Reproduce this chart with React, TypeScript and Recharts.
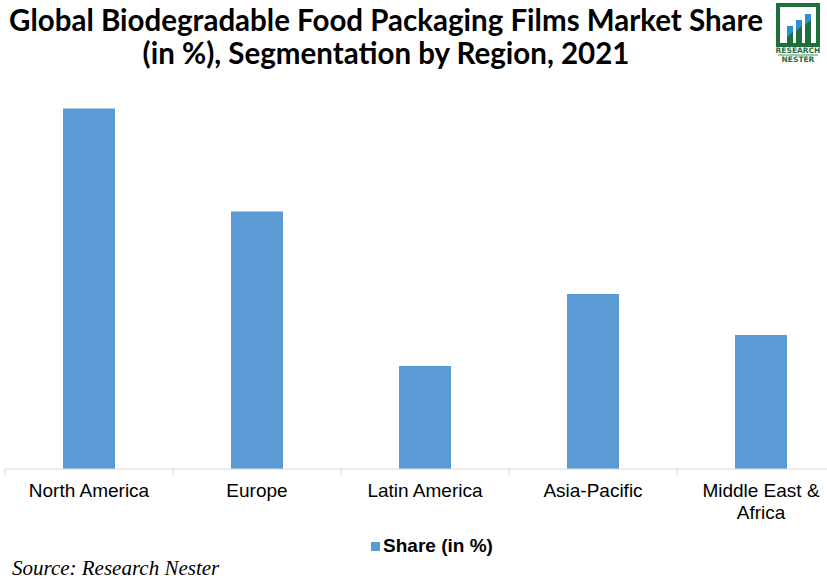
import React from "react"
import { BarChart, Bar, XAxis, YAxis, Legend, Text } from "recharts"

const regions = ["North America", "Europe", "Latin America", "Asia-Pacific", "Middle East & Africa"]
const shares = [35, 25, 10, 17, 13]
const seriesName = "Share (in %)"

const data = regions.map((region, i) => ({ region, share: shares[i] }))

const BAR_COLOR = "#5B9BD5"
const CHART_W = 846
const PLOT_LEFT = 5
const PLOT_RIGHT = 1
const BAND = (CHART_W - PLOT_LEFT - PLOT_RIGHT) / regions.length
const NARROW = "'Liberation Sans Narrow', 'Arial Narrow', 'Liberation Sans', sans-serif"

function RegionTick(props: any) {
  const { x, y, payload } = props
  const axisY = y - 8
  return (
    <g>
      <line x1={x - BAND / 2} x2={x - BAND / 2} y1={axisY} y2={axisY + 6} stroke="#d9d9d9" />
      <Text
        x={x}
        y={axisY + 15}
        width={135}
        textAnchor="middle"
        verticalAnchor="start"
        lineHeight={22}
        fill="#000"
        style={{ fontFamily: NARROW, fontSize: 19 }}
      >
        {payload.value}
      </Text>
    </g>
  )
}

function ShareLegend() {
  return (
    <div
      style={{
        height: 30,
        display: "flex",
        alignItems: "center",
        justifyContent: "center",
        fontFamily: NARROW,
        fontWeight: "bold",
        fontSize: 19,
        color: "#000",
        paddingLeft: 14,
      }}
    >
      <span style={{ width: 9, height: 9, background: BAR_COLOR, marginRight: 3, display: "inline-block" }} />
      {seriesName}
    </div>
  )
}

function Logo() {
  const green = "#1f6e3b"
  return (
    <svg width={52} height={66} style={{ position: "absolute", left: 771, top: 0 }}>
      <rect x={7} y={5} width={40} height={40} fill="none" stroke={green} strokeWidth={4} />
      <rect x={16} y={26} width={6} height={19} fill={green} />
      <rect x={25} y={20} width={6} height={25} fill={green} />
      <rect x={34} y={14} width={6} height={31} fill={green} />
      <polygon points="16,37 22,32 22,26 16,26" fill="#2e8fd6" />
      <polygon points="25,31 31,26 31,20 25,20" fill="#2e8fd6" />
      <polygon points="34,25 40,20 40,14 34,14" fill="#2e8fd6" />
      <text x={27} y={53} textAnchor="middle" fontSize={7.5} fontWeight="bold" fill={green} fontFamily="'DejaVu Sans', sans-serif">
        RESEARCH
      </text>
      <line x1={7} x2={47} y1={55} y2={55} stroke={green} strokeWidth={0.8} />
      <text x={27} y={62} textAnchor="middle" fontSize={7.5} fontWeight="bold" fill={green} fontFamily="'DejaVu Sans', sans-serif">
        NESTER
      </text>
    </svg>
  )
}

export default function App() {
  return (
    <div style={{ position: "absolute", left: 0, top: 0, width: 827, height: 581, overflow: "hidden", background: "#fff" }}>
      <div
        style={{
          position: "absolute",
          left: 0,
          top: 3,
          width: 772,
          textAlign: "center",
          fontFamily: "Lato, 'Open Sans', sans-serif",
          fontWeight: "bold",
          fontSize: 29.5,
          lineHeight: "33px",
          color: "#000",
          whiteSpace: "nowrap",
        }}
      >
        Global Biodegradable Food Packaging Films Market Share
        <br />
        (in %), Segmentation by Region, 2021
      </div>
      <Logo />
      <BarChart
        width={CHART_W}
        height={581}
        data={data}
        margin={{ top: 57, right: PLOT_RIGHT, left: PLOT_LEFT, bottom: 20 }}
        barSize={52}
      >
        <XAxis
          dataKey="region"
          axisLine={{ stroke: "#d9d9d9" }}
          tickLine={false}
          tick={<RegionTick />}
          height={62}
          interval={0}
        />
        <YAxis hide domain={[0, 40]} />
        <Legend verticalAlign="bottom" content={<ShareLegend />} />
        <Bar dataKey="share" name={seriesName} fill={BAR_COLOR} isAnimationActive={false} />
      </BarChart>
      <div
        style={{
          position: "absolute",
          left: 12,
          top: 556,
          fontFamily: "'Liberation Serif', 'DejaVu Serif', serif",
          fontStyle: "italic",
          fontSize: 21,
          color: "#000",
        }}
      >
        Source: Research Nester
      </div>
    </div>
  )
}
